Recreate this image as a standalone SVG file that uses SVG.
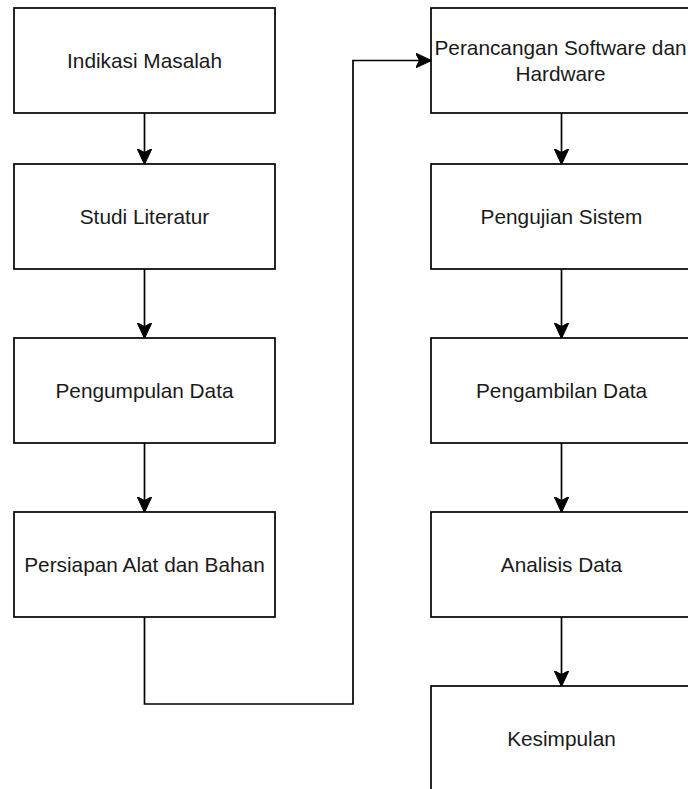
<svg xmlns="http://www.w3.org/2000/svg" width="688" height="789" viewBox="0 0 688 789">
<style>
.box{fill:#fff;stroke:#000;stroke-width:1.7}
.lbl{font-family:"Liberation Sans",Arial,sans-serif;font-size:20.8px;fill:#1a1a1a;text-anchor:middle}
.edge{fill:none;stroke:#000;stroke-width:1.7}
</style>
<defs>
<marker id="arr" markerUnits="userSpaceOnUse" viewBox="0 0 16 16" refX="15.5" refY="8" markerWidth="16" markerHeight="16" orient="auto">
<path d="M16,8 L0,0.5 L4,8 L0,15.5 Z" fill="#000" stroke="#000" stroke-width="1"/>
</marker>
</defs>
<rect width="688" height="789" fill="#fff"/>
<g id="connectors">
<path class="edge" d="M144.5,113 V164" marker-end="url(#arr)"/>
<path class="edge" d="M144.5,269 V338" marker-end="url(#arr)"/>
<path class="edge" d="M144.5,443 V512" marker-end="url(#arr)"/>
<path class="edge" d="M144.5,617 V704 H353 V60.5 H431" marker-end="url(#arr)"/>
<path class="edge" d="M561.5,113 V164" marker-end="url(#arr)"/>
<path class="edge" d="M561.5,269 V338" marker-end="url(#arr)"/>
<path class="edge" d="M561.5,443 V512" marker-end="url(#arr)"/>
<path class="edge" d="M561.5,617 V686" marker-end="url(#arr)"/>
</g>
<g id="n1"><rect class="box" x="14" y="8" width="261" height="105"/><text class="lbl" x="144.5" y="67.9">Indikasi Masalah</text></g>
<g id="n2"><rect class="box" x="14" y="164" width="261" height="105"/><text class="lbl" x="144.5" y="223.9">Studi Literatur</text></g>
<g id="n3"><rect class="box" x="14" y="338" width="261" height="105"/><text class="lbl" x="144.5" y="397.9">Pengumpulan Data</text></g>
<g id="n4"><rect class="box" x="14" y="512" width="261" height="105"/><text class="lbl" x="144.5" y="571.9">Persiapan Alat dan Bahan</text></g>
<g id="n5"><rect class="box" x="431" y="8" width="261" height="105"/><text class="lbl" x="560.5" y="55.3">Perancangan Software dan</text><text class="lbl" x="560.5" y="80.7">Hardware</text></g>
<g id="n6"><rect class="box" x="431" y="164" width="261" height="105"/><text class="lbl" x="561.5" y="223.9">Pengujian Sistem</text></g>
<g id="n7"><rect class="box" x="431" y="338" width="261" height="105"/><text class="lbl" x="561.5" y="397.9">Pengambilan Data</text></g>
<g id="n8"><rect class="box" x="431" y="512" width="261" height="105"/><text class="lbl" x="561.5" y="571.9">Analisis Data</text></g>
<g id="n9"><rect class="box" x="431" y="686" width="261" height="105"/><text class="lbl" x="561.5" y="745.9">Kesimpulan</text></g>
</svg>
